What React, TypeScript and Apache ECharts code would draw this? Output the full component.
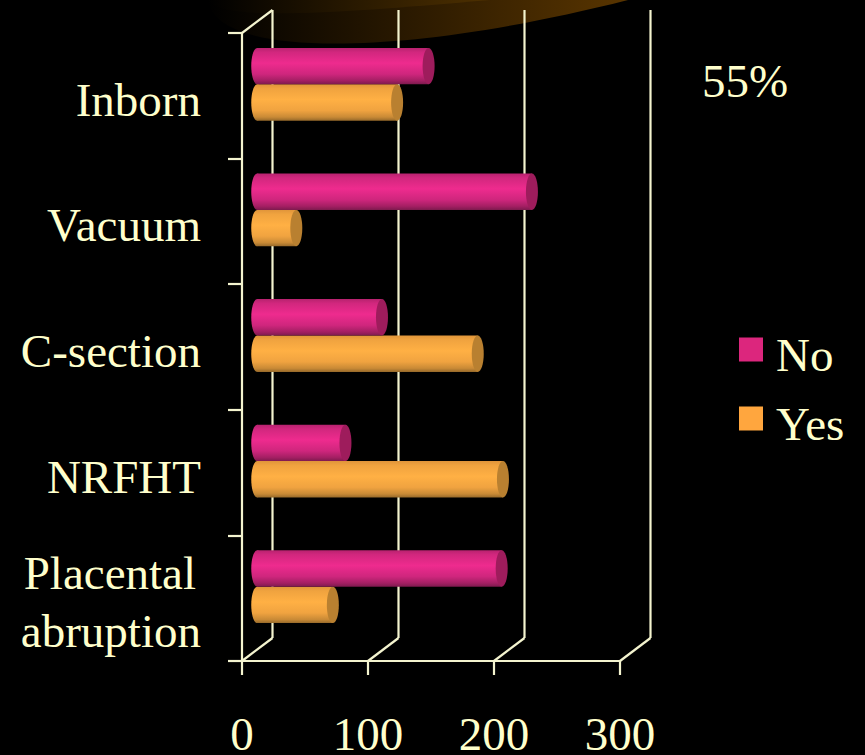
import React, { useEffect, useRef } from "react";
import * as echarts from "echarts";

const categories = ["Inborn", "Vacuum", "C-section", "NRFHT", "Placental\nabruption"];
const valuesNo = [136, 218, 99, 70, 194];
const valuesYes = [111, 31, 175, 195, 60];
const xTicks = [0, 100, 200, 300];
const annotation = "55%";

const CREAM = "#ffffcc";
const LINE = "#f4f4cf";
const DEPTH_X = 30.5;
const DEPTH_Y = 23;
const SERIF = "Liberation Serif";

function vGrad(stops: [number, string][]) {
  return new echarts.graphic.LinearGradient(0, 0, 0, 1, stops.map(([offset, color]) => ({ offset, color })));
}

const pinkBody = [[0, "#b8226f"], [0.12, "#d2277e"], [0.42, "#ee2b8e"], [0.72, "#cf267d"], [0.9, "#a41f63"], [1, "#7e1a4e"]] as [number, string][];
const orangeBody = [[0, "#e0953a"], [0.12, "#f0a33f"], [0.42, "#ffb044"], [0.72, "#f0a340"], [0.9, "#c98a36"], [1, "#96692a"]] as [number, string][];

function barRenderer(side: number, body: [number, string][], capColor: string) {
  return (params: any, api: any) => {
    const v = api.value(0);
    const cat = api.value(1);
    const start = api.coord([0, cat]);
    const end = api.coord([v, cat]);
    const band = api.size([0, 1])[1];
    const h = band * 0.29;
    const cx0 = start[0] + DEPTH_X / 2;
    const cx1 = end[0] + DEPTH_X / 2;
    const cy = start[1] - DEPTH_Y / 2 + (side * h) / 2;
    const rx = 6;
    const grad = vGrad(body);
    return {
      type: "group",
      children: [
        { type: "rect", shape: { x: cx0, y: cy - h / 2, width: cx1 - cx0, height: h }, style: { fill: grad } },
        { type: "ellipse", shape: { cx: cx0, cy, rx, ry: h / 2 }, style: { fill: grad } },
        { type: "ellipse", shape: { cx: cx1, cy, rx, ry: h / 2 }, style: { fill: capColor } },
      ],
    };
  };
}

function wallRenderer(params: any, api: any) {
  const v = api.value(0);
  const x = api.coord([v, 0])[0];
  const top = params.coordSys.y;
  const bottom = top + params.coordSys.height;
  const style = { stroke: LINE, lineWidth: 2.2, fill: "none" };
  const children: any[] = [
    { type: "line", shape: { x1: x, y1: bottom, x2: x + DEPTH_X, y2: bottom - DEPTH_Y }, style },
    { type: "line", shape: { x1: x + DEPTH_X, y1: bottom - DEPTH_Y, x2: x + DEPTH_X, y2: top - DEPTH_Y }, style },
  ];
  if (v === 0) {
    children.push({ type: "line", shape: { x1: x, y1: top, x2: x + DEPTH_X, y2: top - DEPTH_Y }, style });
  }
  return { type: "group", children };
}

export default function App() {
  const ref = useRef<HTMLDivElement>(null);
  useEffect(() => {
    document.body.style.margin = "0";
    document.body.style.background = "#000";
    const chart = echarts.init(ref.current!, undefined, { renderer: "svg" });
    echarts.graphic.registerShape(
      "swoosh",
      echarts.graphic.extendPath("M208 0 C215 58 400 58 628 0 Z", {}) as any
    );
    echarts.graphic.registerShape(
      "swooshTop",
      echarts.graphic.extendPath("M208 0 C220 22 340 13 490 0 Z", {}) as any
    );
    chart.setOption({
      animation: false,
      backgroundColor: "#000000",
      graphic: [
        {
          type: "swoosh", z: -1, silent: true,
          style: { fill: new echarts.graphic.LinearGradient(0, 0, 1, 0, [{ offset: 0, color: "#000000" }, { offset: 1, color: "#593500" }]) },
        },
        {
          type: "swooshTop", z: -1, silent: true,
          style: { fill: new echarts.graphic.LinearGradient(0, 0, 1, 0, [{ offset: 0, color: "#000000" }, { offset: 1, color: "#4e3000" }]) },
        },
        {
          type: "text", left: 702, top: 57,
          style: { text: annotation, fill: CREAM, font: `47px '${SERIF}'` },
        },
      ],
      legend: {
        orient: "vertical",
        left: 739,
        top: 331,
        padding: 0,
        icon: "rect",
        itemWidth: 24,
        itemHeight: 24,
        itemGap: 22,
        data: [
          { name: "No", itemStyle: { color: "#dc267d" } },
          { name: "Yes", itemStyle: { color: "#ffa63e" } },
        ],
        formatter: "{entry|{name}}",
        textStyle: {
          color: CREAM,
          fontFamily: SERIF,
          fontSize: 47,
          rich: { entry: { color: CREAM, fontFamily: SERIF, fontSize: 47, padding: [10, 0, 0, 8] } },
        },
        selectedMode: false,
      },
      grid: { left: 242, top: 33, width: 378, height: 628, containLabel: false, outerBoundsMode: "none" },
      xAxis: {
        type: "value",
        min: 0,
        max: 300,
        interval: 100,
        splitLine: { show: false },
        axisLine: { show: true, lineStyle: { color: LINE, width: 2.2 } },
        axisTick: { show: true, length: 14, lineStyle: { color: LINE, width: 2.2 } },
        axisLabel: { color: CREAM, fontFamily: SERIF, fontSize: 47, lineHeight: 40, margin: 53, customValues: xTicks },
      },
      yAxis: {
        type: "category",
        inverse: true,
        data: categories,
        axisLine: { show: true, lineStyle: { color: LINE, width: 2.2 } },
        axisTick: { show: true, length: 14, lineStyle: { color: LINE, width: 2.2 } },
        axisLabel: {
          color: CREAM,
          fontFamily: SERIF,
          fontSize: 47,
          margin: 41,
          lineHeight: 58,
          padding: [8, 0, 0, 0],
          interval: 0,
          formatter: (value: string) =>
            value.includes("\n")
              ? value.split("\n").map((line, i) => (i === 0 ? `{inset|${line}}` : `{full|${line}}`)).join("\n")
              : value,
          rich: {
            inset: { color: CREAM, fontFamily: SERIF, fontSize: 47, lineHeight: 58, padding: [0, 5, 0, 0] },
            full: { color: CREAM, fontFamily: SERIF, fontSize: 47, lineHeight: 58 },
          },
        },
      },
      series: [
        {
          name: "wall",
          type: "custom",
          silent: true,
          z: 1,
          data: xTicks.map((v) => [v]),
          encode: { x: 0 },
          renderItem: wallRenderer,
        },
        {
          name: "Yes",
          type: "custom",
          z: 2,
          itemStyle: { color: "#ffa63e" },
          data: valuesYes.map((v, i) => [v, i]),
          encode: { x: 0, y: 1 },
          renderItem: barRenderer(1, orangeBody, "#b98030"),
        },
        {
          name: "No",
          type: "custom",
          z: 3,
          itemStyle: { color: "#dc267d" },
          data: valuesNo.map((v, i) => [v, i]),
          encode: { x: 0, y: 1 },
          renderItem: barRenderer(-1, pinkBody, "#9e1c5c"),
        },
      ],
    });
    return () => chart.dispose();
  }, []);
  return <div ref={ref} style={{ position: "absolute", left: 0, top: 0, width: 865, height: 755 }} />;
}
